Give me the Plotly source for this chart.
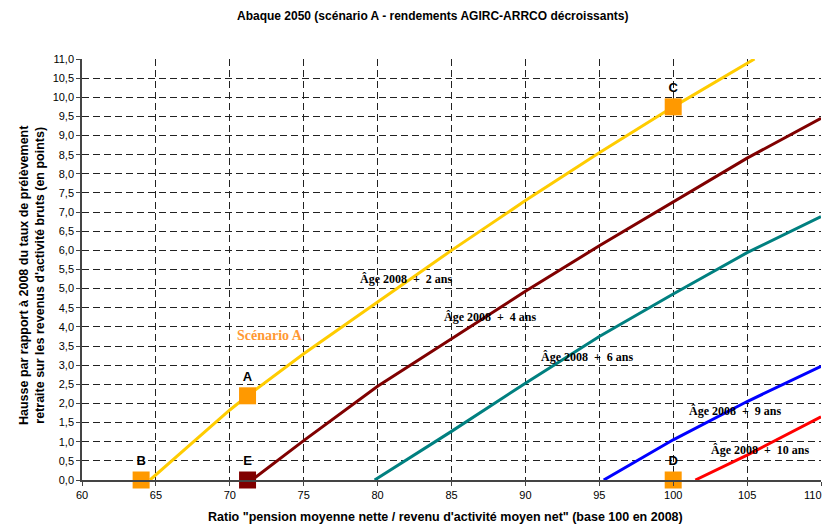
import plotly.graph_objects as go

# Courbes de l'abaque
x_age2 = [64.6, 70, 71.2, 75, 80, 85, 90, 95, 100, 105.5]
y_age2 = [0, 1.83, 2.2, 3.3, 4.65, 6.0, 7.3, 8.55, 9.75, 11.0]

x_age4 = [71.5, 75, 80, 85, 90, 95, 100, 105, 110]
y_age4 = [0, 1.03, 2.45, 3.7, 4.93, 6.12, 7.27, 8.41, 9.45]

x_age6 = [79.8, 85, 90, 95, 100, 105, 110]
y_age6 = [0, 1.27, 2.53, 3.75, 4.86, 5.94, 6.88]

x_age9 = [95.3, 100, 105, 110]
y_age9 = [0, 1.05, 2.05, 2.97]

x_age10 = [101.5, 105, 110]
y_age10 = [0, 0.65, 1.65]

# Points repères
pt_labels = ["A", "B", "C", "D", "E"]
pt_x = [71.2, 64.0, 100, 100, 71.2]
pt_y = [2.2, 0, 9.75, 0, 0]
pt_colors = ["#FF9900", "#FF9900", "#FF9900", "#FF9900", "#800000"]

x_ticks = [60, 65, 70, 75, 80, 85, 90, 95, 100, 105, 110]

serif = "Liberation Serif, Times New Roman, serif"
sans = "Liberation Sans, Arial, sans-serif"

W, H = 825, 532
L, T = 82, 59
R, B = W - 821, H - 480
PW, PH = W - L - R, H - T - B


def px(x):
    return (x - L) / PW


def py(y):
    return (H - B - y) / PH


fig = go.Figure()

# Courbes
for xs, ys, col in [(x_age2, y_age2, "#FFCC00"), (x_age4, y_age4, "#800000"),
                    (x_age6, y_age6, "#008080"), (x_age9, y_age9, "#0000FF"),
                    (x_age10, y_age10, "#FF0000")]:
    fig.add_trace(go.Scatter(x=xs, y=ys, mode="lines", line=dict(color=col, width=3),
                             showlegend=False, hoverinfo="skip", cliponaxis=True))

# Marqueurs carrés + lettres
fig.add_trace(go.Scatter(x=pt_x, y=pt_y, mode="markers+text",
                         text=["<b>" + t + "</b>" for t in pt_labels],
                         textposition="top center",
                         textfont=dict(family=sans, size=13, color="black"),
                         marker=dict(symbol="square", size=17, color=pt_colors),
                         showlegend=False, cliponaxis=False))

# Étiquettes des courbes
labels = [
    ("Âge 2008  +  2 ans", 406, 279),
    ("Âge 2008  +  4 ans", 490, 317),
    ("Âge 2008  +  6 ans", 587, 357),
    ("Âge 2008  +  9 ans", 735, 411),
    ("Âge 2008  +  10 ans", 760, 450),
]
for txt, lx, ly in labels:
    fig.add_annotation(text="<b>" + txt + "</b>", xref="paper", yref="paper",
                       x=px(lx), y=py(ly), xanchor="center", yanchor="middle",
                       showarrow=False, font=dict(family=serif, size=12, color="black"))

fig.add_annotation(text="<b>Scénario A</b>", xref="paper", yref="paper",
                   x=px(270), y=py(335), xanchor="center", yanchor="middle",
                   showarrow=False, font=dict(family=serif, size=14, color="#FF9933"))

# dernier libellé de l'axe x, décalé pour rester dans la page
fig.add_annotation(text=str(x_ticks[-1]), xref="paper", yref="paper",
                   x=px(824), y=py(487), xanchor="right", yanchor="top",
                   showarrow=False, font=dict(family=sans, size=11, color="black"))

# Titres
fig.add_annotation(text="<b>Abaque 2050 (scénario A - rendements AGIRC-ARRCO décroissants)</b>",
                   xref="paper", yref="paper", x=px(432), y=py(16),
                   xanchor="center", yanchor="middle",
                   showarrow=False, font=dict(family=sans, size=12, color="black"))
fig.add_annotation(text="<b>Ratio \"pension moyenne nette / revenu d'activité moyen net\" (base 100 en 2008)</b>",
                   xref="paper", yref="paper", x=px(445), y=py(517),
                   xanchor="center", yanchor="middle",
                   showarrow=False, font=dict(family=sans, size=12.5, color="black"))
fig.add_annotation(text="<b>Hausse par rapport à 2008 du taux de prélèvement<br>retraite sur les revenus d'activité bruts (en points)</b>",
                   xref="paper", yref="paper", x=px(32), y=py(275),
                   xanchor="center", yanchor="middle", textangle=-90, showarrow=False,
                   font=dict(family=sans, size=12.5, color="black"))

fig.update_xaxes(range=[60, 110], tickvals=x_ticks,
                 ticktext=[str(v) for v in x_ticks[:-1]] + [""],
                 showgrid=True, automargin=False,
                 gridcolor="#222222", griddash="7px,4px", gridwidth=1,
                 showline=True, linecolor="#444444", linewidth=1.5,
                 ticks="outside", ticklen=4, tickcolor="#444444",
                 tickfont=dict(family=sans, size=11, color="black"),
                 zeroline=False)
fig.update_yaxes(range=[0, 11], dtick=0.5, tick0=0, tickformat=".1f", showgrid=True,
                 automargin=False,
                 gridcolor="#222222", griddash="7px,4px", gridwidth=1,
                 showline=True, linecolor="#444444", linewidth=1.5,
                 ticks="outside", ticklen=4, tickcolor="#444444",
                 tickfont=dict(family=sans, size=11, color="black"),
                 zeroline=False)

fig.update_layout(width=W, height=H, separators=", ",
                  margin=dict(l=L, r=R, t=T, b=B),
                  plot_bgcolor="white", paper_bgcolor="white",
                  font=dict(family=sans))

# la page HTML a une marge de 8 px par défaut : on la retire
fig.write_html("out.html", config={"displayModeBar": False},
               post_script="document.body.style.margin='0';document.body.style.overflow='hidden';")
